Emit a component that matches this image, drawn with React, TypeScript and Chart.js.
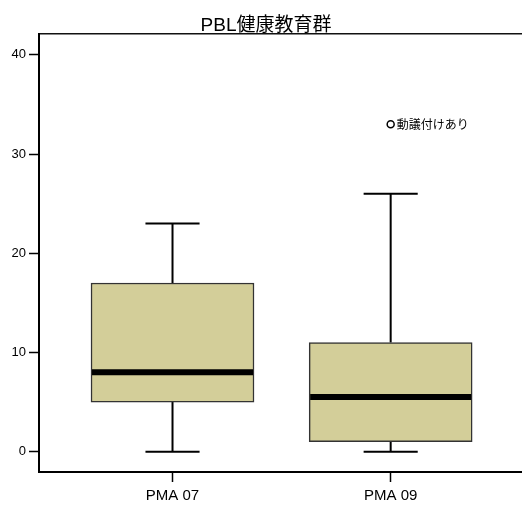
import { useEffect, useRef } from "react";
import { Chart, registerables } from "chart.js";

Chart.register(...registerables);

const TITLE = "PBL健康教育群";
const categories = ["PMA 07", "PMA 09"];
const whiskerLow = [0, 0];
const q1 = [5, 1];
const medians = [8, 5.5];
const q3 = [17, 11];
const whiskerHigh = [23, 26];
const outlierCategory = [1];
const outlierValues = [33];
const outlierLabels = ["動議付けあり"];
const yTicks = [0, 10, 20, 30, 40];

const FONT = "'Liberation Sans', Arial, 'Noto Sans CJK JP', sans-serif";
const CAP_HALF = 0.124; // in category units
const BOX_FILL = "#d3ce99";

const boxPlugin = {
  id: "boxExtras",
  beforeDatasetsDraw(chart: any) {
    const { ctx, scales } = chart;
    const x = scales.x;
    const y = scales.y;
    const meta = chart.getDatasetMeta(0);
    ctx.save();
    ctx.strokeStyle = "#000";
    ctx.lineWidth = 2;
    meta.data.forEach((bar: any, i: number) => {
      const { x: cx } = bar.getProps(["x"], true);
      const capHalf = x.getPixelForValue(i + CAP_HALF) - x.getPixelForValue(i);
      const yHi = y.getPixelForValue(whiskerHigh[i]);
      const yLo = y.getPixelForValue(whiskerLow[i]);
      ctx.beginPath();
      ctx.moveTo(cx, y.getPixelForValue(q3[i]));
      ctx.lineTo(cx, yHi);
      ctx.moveTo(cx - capHalf, yHi);
      ctx.lineTo(cx + capHalf, yHi);
      ctx.moveTo(cx, y.getPixelForValue(q1[i]));
      ctx.lineTo(cx, yLo);
      ctx.moveTo(cx - capHalf, yLo);
      ctx.lineTo(cx + capHalf, yLo);
      ctx.stroke();
    });
    ctx.restore();
  },
  afterDatasetsDraw(chart: any) {
    const { ctx, scales } = chart;
    const y = scales.y;
    const meta = chart.getDatasetMeta(0);
    ctx.save();
    ctx.strokeStyle = "#000";
    ctx.lineWidth = 6;
    meta.data.forEach((bar: any, i: number) => {
      const { x: cx, width } = bar.getProps(["x", "width"], true);
      const ym = y.getPixelForValue(medians[i]);
      ctx.beginPath();
      ctx.moveTo(cx - width / 2 + 1, ym);
      ctx.lineTo(cx + width / 2 - 1, ym);
      ctx.stroke();
    });
    const om = chart.getDatasetMeta(1);
    ctx.fillStyle = "#000";
    ctx.font = `12px ${FONT}`;
    ctx.textAlign = "left";
    ctx.textBaseline = "middle";
    om.data.forEach((pt: any, i: number) => {
      const { x: px, y: py } = pt.getProps(["x", "y"], true);
      ctx.fillText(outlierLabels[i], px + 6, py + 1);
    });
    ctx.restore();
  },
  afterDraw(chart: any) {
    const { ctx } = chart;
    ctx.save();
    ctx.fillStyle = "#000";
    ctx.font = `19px ${FONT}`;
    ctx.textAlign = "center";
    ctx.textBaseline = "alphabetic";
    ctx.fillText(TITLE, 266, 31);
    ctx.restore();
  },
};

export default function App() {
  const ref = useRef<HTMLCanvasElement | null>(null);
  useEffect(() => {
    if (!ref.current) return;
    const chart = new Chart(ref.current, {
      type: "bar",
      data: {
        datasets: [
          {
            type: "bar",
            data: categories.map((_, i) => ({ x: i, y: [q1[i], q3[i]] })) as any,
            backgroundColor: BOX_FILL,
            borderColor: "#333",
            borderWidth: 1.5,
            borderSkipped: false,
            barThickness: 163,
          } as any,
          {
            type: "scatter",
            data: outlierCategory.map((c, i) => ({ x: c, y: outlierValues[i] })),
            pointStyle: "circle",
            pointRadius: 3.5,
            pointBorderWidth: 1.5,
            pointBorderColor: "#000",
            pointBackgroundColor: "#fff",
          } as any,
        ],
      },
      options: {
        responsive: false,
        animation: false,
        plugins: {
          legend: { display: false },
          tooltip: { enabled: false },
          title: { display: false },
        },
        layout: { padding: 0, autoPadding: false },
        scales: {
          x: {
            type: "linear",
            position: "bottom",
            offset: false,
            min: -0.612,
            max: 1.602,
            afterBuildTicks: (s: any) => {
              s.ticks = categories.map((_, i) => ({ value: i }));
            },
            afterFit: (s: any) => {
              s.height = 33;
            },
            ticks: {
              callback: (v: any) => categories[v as number] ?? "",
              color: "#000",
              font: { family: FONT, size: 15 },
              padding: 5,
              maxRotation: 0,
              autoSkip: false,
            },
            grid: {
              display: true,
              offset: false,
              drawOnChartArea: false,
              drawTicks: true,
              tickLength: 10,
              tickColor: "#000",
              tickWidth: 1.5,
            },
            border: { display: true, color: "#000", width: 2 },
          },
          xTop: {
            type: "linear",
            position: "top",
            offset: false,
            afterFit: (s: any) => {
              s.height = 34;
            },
            ticks: { display: false },
            grid: { display: false, offset: false },
            border: { display: true, color: "#111", width: 1.5 },
          },
          y: {
            type: "linear",
            min: -2.05,
            max: 42.1,
            afterBuildTicks: (s: any) => {
              s.ticks = yTicks.map((v) => ({ value: v }));
            },
            afterFit: (s: any) => {
              s.width = 39;
            },
            ticks: {
              color: "#000",
              font: { family: FONT, size: 13 },
              padding: 3,
            },
            grid: {
              display: true,
              drawOnChartArea: false,
              drawTicks: true,
              tickLength: 10,
              tickColor: "#000",
              tickWidth: 1.5,
            },
            border: { display: true, color: "#000", width: 2 },
          },
        },
      },
      plugins: [boxPlugin],
    } as any);
    return () => chart.destroy();
  }, []);
  return (
    <div style={{ position: "absolute", left: 0, top: 0, width: 522, height: 505 }}>
      <canvas ref={ref} width={522} height={505} style={{ display: "block" }} />
    </div>
  );
}
